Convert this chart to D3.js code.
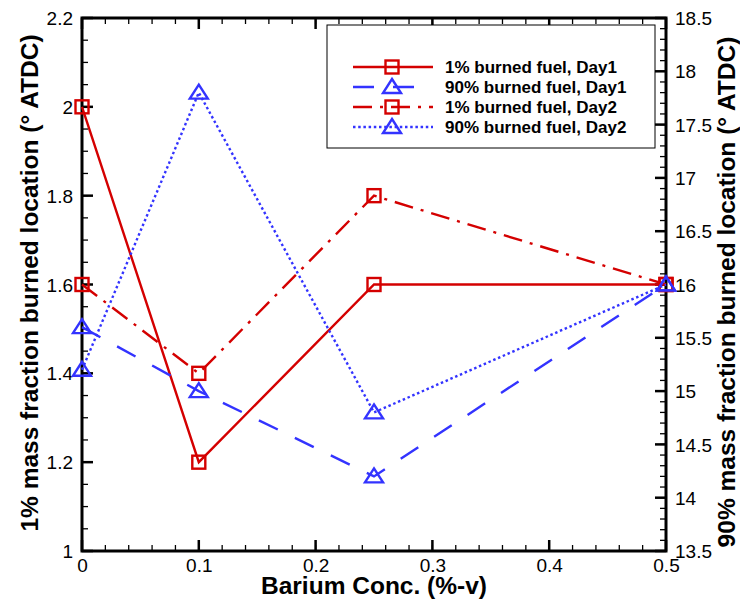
<!DOCTYPE html>
<html><head><meta charset="utf-8">
<script src="https://cdn.jsdelivr.net/npm/d3@7"></script>
<style>body{margin:0;background:#fff}</style>
</head><body>
<svg id="c" width="740" height="605"></svg>
<script>
const xValues = [0, 0.1, 0.25, 0.5];
const burned1Day1 = [2.0, 1.2, 1.6, 1.6];
const burned90Day1 = [15.6, 15.0, 14.2, 16.0];
const burned1Day2 = [1.6, 1.4, 1.8, 1.6];
const burned90Day2 = [15.2, 17.8, 14.8, 16.0];
const seriesNames = ["1% burned fuel, Day1", "90% burned fuel, Day1", "1% burned fuel, Day2", "90% burned fuel, Day2"];
const xTicks = [0, 0.1, 0.2, 0.3, 0.4, 0.5];
const yLeftTicks = [1, 1.2, 1.4, 1.6, 1.8, 2, 2.2];
const yRightTicks = [13.5, 14, 14.5, 15, 15.5, 16, 16.5, 17, 17.5, 18, 18.5];

const svg = d3.select("#c");
const L = 82, R = 666, T = 18, B = 551;
const x = d3.scaleLinear().domain([0, 0.5]).range([L, R]);
const yl = d3.scaleLinear().domain([1, 2.2]).range([B, T]);
const yr = d3.scaleLinear().domain([13.5, 18.5]).range([B, T]);
const RED = "#d40000", BLUE = "#3333ff";
const font = "Liberation Sans, Arial, sans-serif";

const series = [
  {vals: burned1Day1, y: yl, color: RED, dash: null, marker: "sq"},
  {vals: burned90Day1, y: yr, color: BLUE, dash: "21,19", marker: "tri"},
  {vals: burned1Day2, y: yl, color: RED, dash: "19,8,3,8", marker: "sq"},
  {vals: burned90Day2, y: yr, color: BLUE, dash: "2.5,2.7", marker: "tri"}
];

// ticks
const g = svg.append("g");
const xMinor = d3.range(0, 0.5001, 0.02);
const ylMinor = d3.range(1, 2.2001, 0.05);
const yrMinor = d3.range(13.5, 18.5001, 0.1);
function tick(x1,y1,x2,y2,w){g.append("line").attr("x1",x1).attr("y1",y1).attr("x2",x2).attr("y2",y2).attr("stroke","#000").attr("stroke-width",w);}
xMinor.forEach(v=>{tick(x(v),B,x(v),B-6,1.3);tick(x(v),T,x(v),T+6,1.3);});
ylMinor.forEach(v=>tick(L,yl(v),L+6,yl(v),1.3));
yrMinor.forEach(v=>tick(R,yr(v),R-6,yr(v),1.3));
xTicks.forEach(v=>{tick(x(v),B,x(v),B-11,2.5);tick(x(v),T,x(v),T+11,2.5);});
yLeftTicks.forEach(v=>tick(L,yl(v),L+11,yl(v),2.5));
yRightTicks.forEach(v=>tick(R,yr(v),R-11,yr(v),2.5));

// axes labels via d3 axes
const ax = svg.append("g").attr("transform",`translate(0,${B})`).call(d3.axisBottom(x).tickValues(xTicks).tickSize(0).tickPadding(8).tickFormat(d3.format("")));
const ayl = svg.append("g").attr("transform",`translate(${L},0)`).call(d3.axisLeft(yl).tickValues(yLeftTicks).tickSize(0).tickPadding(9).tickFormat(d3.format("")));
const ayr = svg.append("g").attr("transform",`translate(${R},0)`).call(d3.axisRight(yr).tickValues(yRightTicks).tickSize(0).tickPadding(9).tickFormat(d3.format("")));
[ax,ayl,ayr].forEach(a=>{a.select(".domain").remove();a.selectAll("text").attr("font-family",font).attr("font-size",19).attr("fill","#000");});
ayl.selectAll("text").attr("dy","0.35em");
ayr.selectAll("text").attr("dy","0.35em");

// frame
svg.append("rect").attr("x",L).attr("y",T).attr("width",R-L).attr("height",B-T).attr("fill","none").attr("stroke","#000").attr("stroke-width",3);

// series
const plot = svg.append("g");
series.forEach(s=>{
  const line = d3.line().x((d,i)=>x(xValues[i])).y(d=>s.y(d));
  plot.append("path").datum(s.vals).attr("d",line).attr("fill","none").attr("stroke",s.color).attr("stroke-width",2.4).attr("stroke-dasharray",s.dash);
});
function marker(sel, type, cx, cy, color){
  if(type==="sq") sel.append("rect").attr("x",cx-6.5).attr("y",cy-6.5).attr("width",13).attr("height",13).attr("fill","none").attr("stroke",color).attr("stroke-width",2.4);
  else sel.append("path").attr("d",`M${cx},${cy-8}L${cx+9},${cy+6}L${cx-9},${cy+6}Z`).attr("fill","none").attr("stroke",color).attr("stroke-width",2.4);
}
series.forEach(s=>{
  s.vals.forEach((v,i)=>marker(plot,s.marker,x(xValues[i]),s.y(v),s.color));
});

// legend
const lg = svg.append("g");
lg.append("rect").attr("x",327).attr("y",25).attr("width",328).attr("height",123).attr("fill","#fff").attr("stroke","#000").attr("stroke-width",1);
const ly = [67, 87, 107, 127];
series.forEach((s,i)=>{
  lg.append("line").attr("x1",353).attr("x2",433).attr("y1",ly[i]).attr("y2",ly[i]).attr("stroke",s.color).attr("stroke-width",2.4).attr("stroke-dasharray",s.dash);
  marker(lg,s.marker,392,ly[i],s.color);
  lg.append("text").attr("x",445).attr("y",ly[i]).attr("dy","0.36em").attr("font-family",font).attr("font-weight","bold").attr("font-size",17).text(seriesNames[i]);
});

// titles
svg.append("text").attr("x",(L+R)/2).attr("y",594).attr("text-anchor","middle").attr("font-family",font).attr("font-weight","bold").attr("font-size",24.5).text("Barium Conc. (%-v)");
svg.append("text").attr("transform",`translate(38,283) rotate(-90)`).attr("text-anchor","middle").attr("font-family",font).attr("font-weight","bold").attr("font-size",24.5).text("1% mass fraction burned location (° ATDC)");
svg.append("text").attr("transform",`translate(735,292) rotate(-90)`).attr("text-anchor","middle").attr("font-family",font).attr("font-weight","bold").attr("font-size",24.5).text("90% mass fraction burned location (° ATDC)");
</script>
</body></html>
